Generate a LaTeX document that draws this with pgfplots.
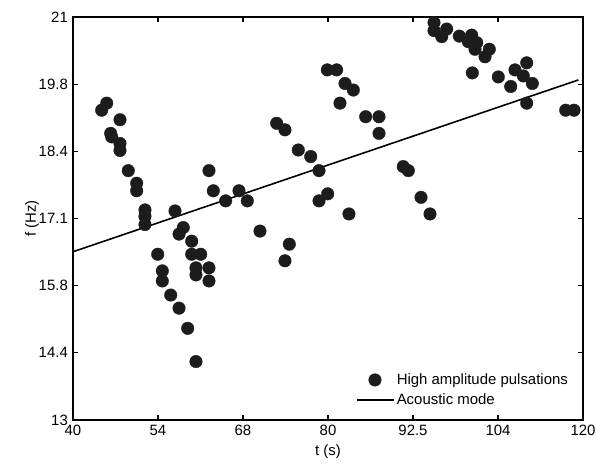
\documentclass[border=0pt]{standalone}
\usepackage{fontspec}
\setmainfont{Liberation Sans}
\usepackage{pgfplots}
\pgfplotsset{compat=1.18}
\definecolor{dotc}{HTML}{1C1C1C}
\pgfplotsset{
  dotlegend/.style={legend image code/.code={\draw[##1] plot coordinates {(18bp,0bp)};}},
  linelegend/.style={legend image code/.code={\draw[##1] (0bp,0bp) -- (37bp,0bp);}},
}

\begin{document}
\fontsize{15}{17}\selectfont
\begin{tikzpicture}
\begin{axis}[
    name=ax,
    scale only axis,
    width=510bp, height=403bp,
    xmin=40, xmax=120, ymin=13, ymax=21,
    xtick={40,53.3333,66.6667,80,93.3333,106.6667,120},
    xticklabels={40,54,68,80,92.5,104,120},
    ytick={13,14.3333,15.6667,17,18.3333,19.6667,21},
    yticklabels={13,14.4,15.8,17.1,18.4,19.8,21},
    tick align=inside,
    major tick length=5bp,
    axis line style={line width=1.3bp},
    every tick/.style={line width=1.2bp, black},
    xlabel={t (s)},
    ylabel={f (Hz)},
    xlabel style={at={(axis description cs:0.5,-0.079)}, anchor=center},
    ylabel style={at={(axis description cs:-0.0804,0.5)}, anchor=center},
    legend cell align=left,
    legend style={draw=none, fill=none, at={(0.549,0.126)}, anchor=north west,
        row sep=3bp},
]
\addplot[only marks, mark=*, mark size=6.3pt, draw=dotc, fill=dotc, dotlegend]
  table {
x y
44.50 19.15
45.29 19.29
45.91 18.69
46.07 18.62
47.37 18.96
47.37 18.49
47.37 18.35
48.67 17.95
49.99 17.70
49.99 17.55
51.29 17.17
51.29 17.04
51.29 16.88
53.29 16.29
54.01 15.96
54.01 15.76
55.33 15.48
56.00 17.15
56.63 15.22
56.63 16.69
57.30 16.82
57.99 14.82
58.62 16.55
58.62 16.29
60.03 16.29
59.29 16.02
59.29 15.88
59.29 14.16
61.33 17.95
62.01 17.55
61.33 16.02
61.33 15.76
63.95 17.35
66.04 17.55
67.34 17.35
69.33 16.75
71.95 18.89
73.25 18.76
75.34 18.36
77.29 18.23
78.59 17.95
79.95 17.49
78.59 17.35
73.93 16.49
73.25 16.16
83.29 17.09
79.89 19.95
81.36 19.95
82.67 19.68
83.97 19.55
81.88 19.29
85.91 19.02
88.00 19.02
88.00 18.69
91.81 18.03
92.60 17.95
94.59 17.42
96.00 17.09
96.63 20.89
96.63 20.73
98.62 20.76
97.84 20.61
100.60 20.62
102.54 20.64
102.01 20.51
103.33 20.49
103.06 20.36
105.30 20.36
104.63 20.21
102.64 19.89
106.71 19.81
109.33 19.95
111.17 20.09
110.64 19.83
112.05 19.68
108.66 19.62
111.17 19.29
117.29 19.15
118.59 19.15
};
\addlegendentry{High amplitude pulsations}
\addplot[black, line width=1.6bp, linelegend]
  coordinates {(40,16.34) (119.27,19.75)};
\addlegendentry{Acoustic mode}
\end{axis}
\pgfresetboundingbox
\path ([shift={(-73bp,-46bp)}]ax.south west) rectangle ([shift={(14bp,17bp)}]ax.north east);
\end{tikzpicture}
\end{document}
